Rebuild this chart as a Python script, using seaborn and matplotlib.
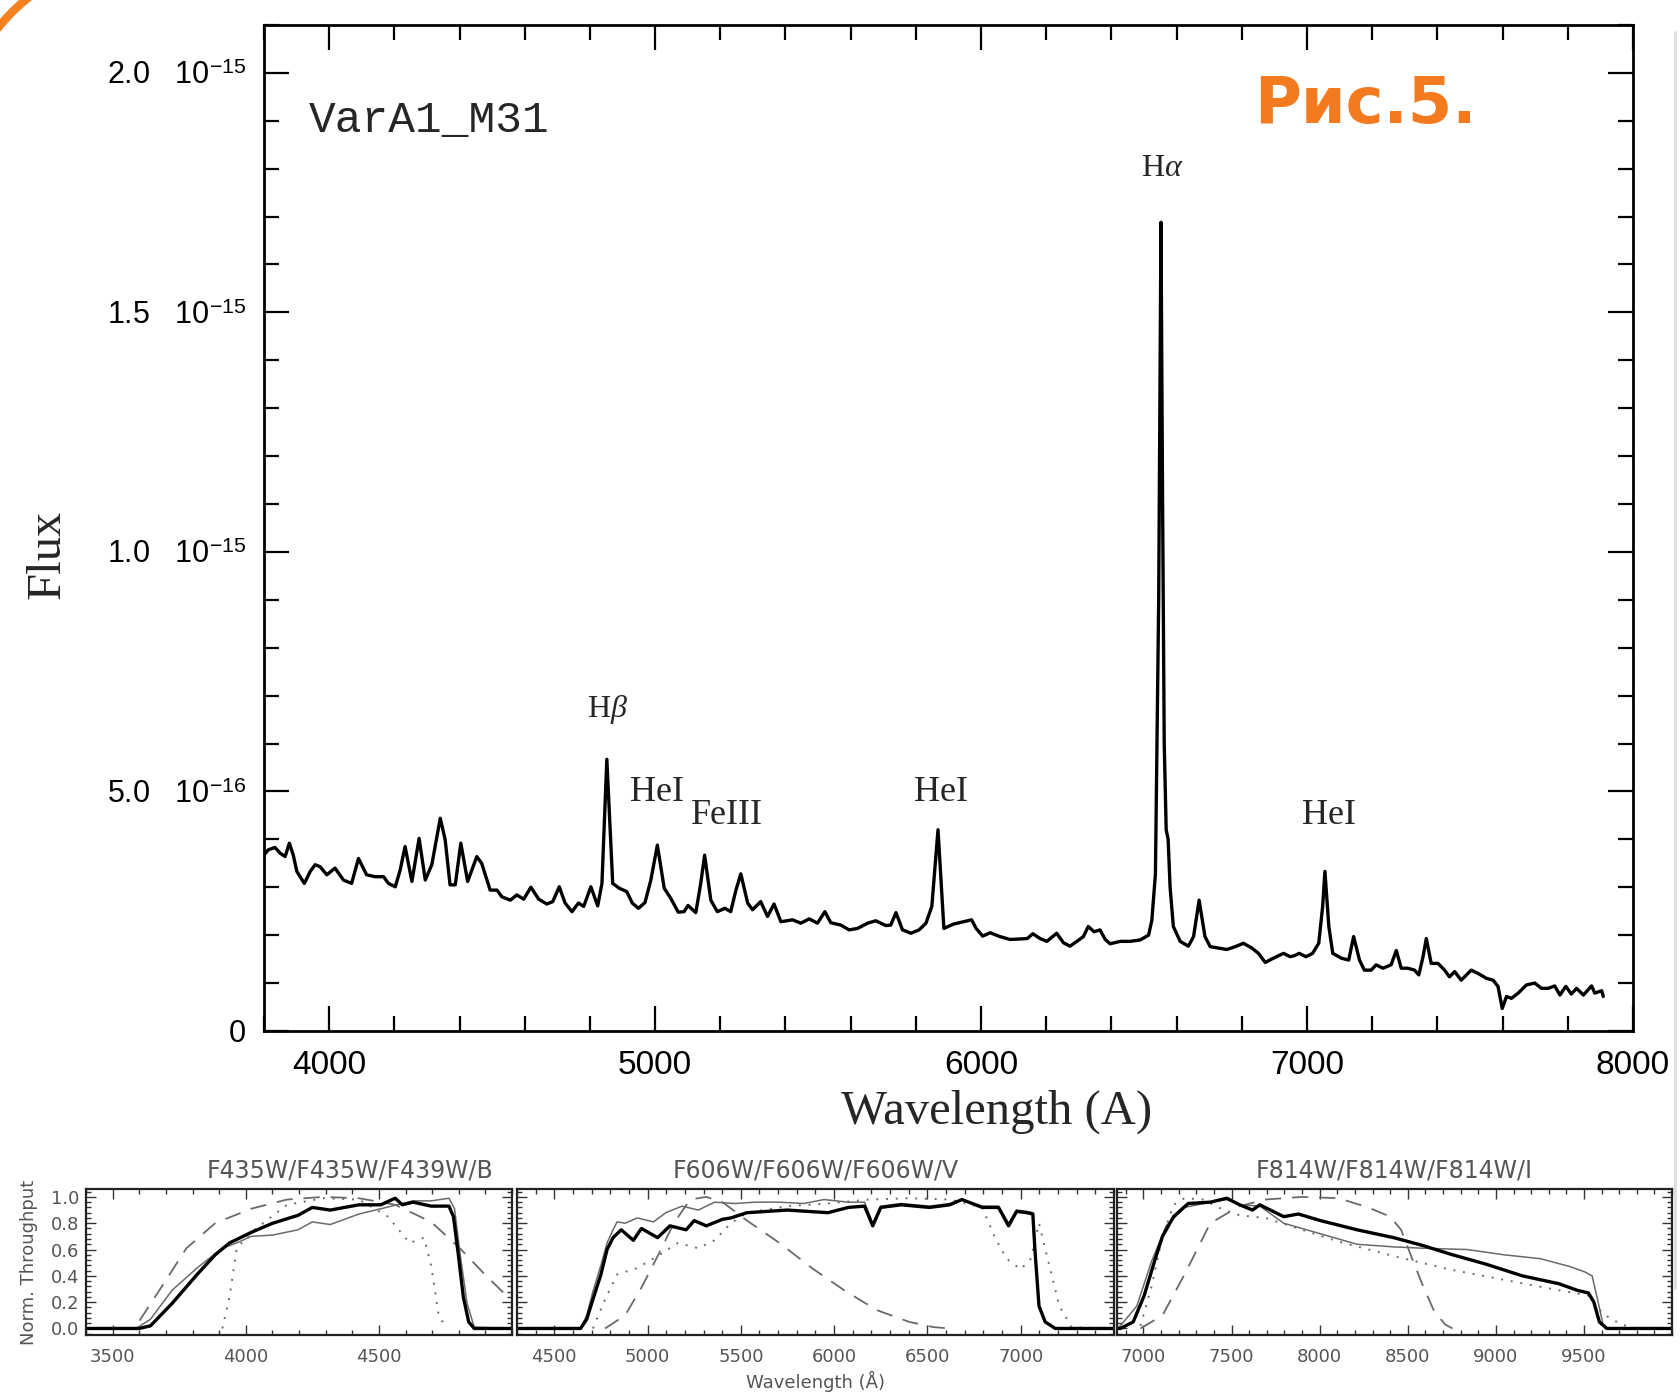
import numpy as np
import pandas as pd
import matplotlib
matplotlib.use("Agg")
import matplotlib.pyplot as plt
import seaborn as sns
from matplotlib.ticker import MultipleLocator, FixedLocator
from matplotlib.patches import Arc
from matplotlib.lines import Line2D

# ---------------- main spectrum (flux in units of 1e-15) ----------------
SPEC_WL = [3800, 3813, 3834, 3850, 3865, 3878, 3890, 3901, 3924, 3942, 3957, 3972, 3993,
           4018, 4044, 4069, 4090, 4115, 4141, 4167, 4182, 4203, 4218, 4233, 4254, 4276,
           4295, 4315, 4341, 4356, 4371, 4387, 4404, 4425, 4453, 4468, 4494, 4515, 4530,
           4556, 4576, 4597, 4619, 4643, 4668, 4686, 4706, 4724, 4745, 4765, 4781, 4803,
           4824, 4837, 4852, 4870, 4890, 4913, 4930, 4949, 4969, 4987, 5007, 5028, 5048,
           5071, 5089, 5101, 5125, 5140, 5152, 5171, 5191, 5214, 5232, 5248, 5263, 5284,
           5299, 5324, 5345, 5365, 5386, 5422, 5447, 5473, 5498, 5521, 5539, 5570, 5595,
           5621, 5652, 5677, 5708, 5723, 5739, 5759, 5785, 5810, 5831, 5849, 5868, 5886,
           5915, 5946, 5971, 5985, 6005, 6028, 6058, 6089, 6120, 6142, 6159, 6181, 6202,
           6232, 6253, 6273, 6294, 6314, 6329, 6347, 6365, 6381, 6396, 6427, 6457, 6488,
           6514, 6524, 6535, 6545, 6552, 6557, 6562, 6568, 6574, 6580, 6590, 6611, 6636,
           6652, 6669, 6687, 6703, 6728, 6754, 6780, 6805, 6831, 6851, 6872, 6897, 6928,
           6948, 6961, 6976, 6997, 7017, 7036, 7048, 7055, 7067, 7079, 7105, 7128, 7143,
           7161, 7176, 7197, 7212, 7233, 7258, 7274, 7289, 7309, 7330, 7343, 7356, 7366,
           7381, 7402, 7422, 7437, 7453, 7473, 7504, 7525, 7550, 7571, 7586, 7599, 7612,
           7627, 7648, 7673, 7699, 7719, 7740, 7760, 7776, 7794, 7811, 7827, 7848, 7873,
           7883, 7904, 7909]
SPEC_FLUX = [0.367, 0.378, 0.383, 0.371, 0.364, 0.392, 0.367, 0.333, 0.308, 0.333, 0.347, 0.343, 0.326,
             0.340, 0.315, 0.308, 0.360, 0.326, 0.322, 0.322, 0.308, 0.301, 0.336, 0.385, 0.312, 0.402,
             0.315, 0.347, 0.444, 0.399, 0.305, 0.305, 0.392, 0.312, 0.364, 0.350, 0.294, 0.294, 0.280,
             0.273, 0.284, 0.275, 0.300, 0.275, 0.265, 0.270, 0.301, 0.267, 0.249, 0.267, 0.260, 0.301,
             0.261, 0.308, 0.567, 0.308, 0.298, 0.291, 0.267, 0.256, 0.268, 0.315, 0.388, 0.298, 0.277,
             0.248, 0.249, 0.262, 0.247, 0.308, 0.367, 0.273, 0.249, 0.256, 0.249, 0.294, 0.328, 0.267,
             0.253, 0.270, 0.239, 0.265, 0.228, 0.232, 0.225, 0.234, 0.225, 0.249, 0.226, 0.221, 0.211,
             0.214, 0.225, 0.230, 0.220, 0.221, 0.247, 0.211, 0.204, 0.211, 0.225, 0.260, 0.420, 0.214,
             0.223, 0.228, 0.232, 0.214, 0.198, 0.205, 0.197, 0.191, 0.192, 0.193, 0.203, 0.193, 0.187,
             0.204, 0.184, 0.177, 0.187, 0.197, 0.218, 0.207, 0.211, 0.191, 0.182, 0.187, 0.187, 0.190,
             0.200, 0.231, 0.328, 0.900, 1.688, 1.100, 0.600, 0.420, 0.400, 0.300, 0.218, 0.187, 0.177,
             0.197, 0.273, 0.197, 0.176, 0.173, 0.170, 0.176, 0.183, 0.173, 0.162, 0.143, 0.152, 0.162,
             0.155, 0.157, 0.162, 0.155, 0.162, 0.183, 0.260, 0.333, 0.218, 0.162, 0.152, 0.148, 0.197,
             0.148, 0.127, 0.127, 0.138, 0.131, 0.138, 0.168, 0.131, 0.131, 0.127, 0.117, 0.155, 0.193,
             0.141, 0.141, 0.127, 0.113, 0.124, 0.106, 0.127, 0.120, 0.110, 0.106, 0.093, 0.047, 0.072,
             0.068, 0.079, 0.096, 0.100, 0.089, 0.089, 0.094, 0.075, 0.093, 0.077, 0.089, 0.075, 0.094,
             0.079, 0.084, 0.072]

FLUX_TICKS = [0.0, 0.5, 1.0, 1.5, 2.0]
FLUX_TICK_LABELS = ["0", r"5.0   $10^{-16}$", r"1.0   $10^{-15}$", r"1.5   $10^{-15}$", r"2.0   $10^{-15}$"]

LINE_NAMES = [r"H$\beta$", "HeI", "FeIII", "HeI", r"H$\alpha$", "HeI"]
LINE_WL = [4854, 5006, 5222, 5877, 6557, 7066]
LINE_Y = [0.670, 0.497, 0.449, 0.497, 1.800, 0.449]

# ---------------- filter throughput panels ----------------
B_THICK_WL = [3400, 3600, 3642, 3723, 3817, 3885, 3939, 4020, 4101, 4196, 4250, 4317, 4425, 4507,
              4561, 4588, 4628, 4696, 4763, 4780, 4797, 4817, 4837, 4858, 5000]
B_THICK = [0, 0, 0.02, 0.19, 0.41, 0.56, 0.65, 0.73, 0.80, 0.86, 0.92, 0.90, 0.94, 0.94,
           0.99, 0.94, 0.96, 0.93, 0.93, 0.85, 0.58, 0.24, 0.05, 0.0, 0.0]
B_THIN_WL = [3400, 3588, 3642, 3723, 3817, 3912, 3966, 4020, 4101, 4196, 4250, 4317, 4425, 4507,
             4628, 4696, 4763, 4784, 4804, 4831, 4858, 5000]
B_THIN = [0, 0, 0.07, 0.29, 0.46, 0.61, 0.65, 0.70, 0.71, 0.75, 0.81, 0.79, 0.87, 0.91,
          0.97, 0.97, 0.99, 0.91, 0.58, 0.19, 0.01, 0]
B_DASH_WL = [3601, 3682, 3777, 3885, 4020, 4155, 4290, 4425, 4561, 4696, 4804, 4898, 4979]
B_DASH = [0.06, 0.31, 0.61, 0.80, 0.91, 0.98, 1.0, 0.99, 0.94, 0.81, 0.61, 0.41, 0.25]
B_DOT_WL = [3912, 3939, 3966, 4020, 4155, 4290, 4425, 4534, 4615, 4669, 4696, 4723, 4750]
B_DOT = [0, 0.24, 0.61, 0.73, 0.94, 0.99, 0.98, 0.85, 0.65, 0.69, 0.48, 0.12, 0]

V_THICK_WL = [4300, 4641, 4674, 4707, 4750, 4783, 4815, 4859, 4924, 4967, 5054, 5120, 5207, 5250,
              5315, 5402, 5446, 5533, 5641, 5750, 5859, 5967, 6076, 6163, 6207, 6250, 6359, 6511,
              6620, 6685, 6794, 6881, 6935, 6978, 7033, 7065, 7076, 7098, 7131, 7185, 7500]
V_THICK = [0, 0, 0.07, 0.22, 0.41, 0.60, 0.69, 0.75, 0.67, 0.76, 0.69, 0.78, 0.75, 0.82,
           0.78, 0.83, 0.84, 0.88, 0.89, 0.90, 0.89, 0.88, 0.92, 0.93, 0.78, 0.92, 0.94, 0.92,
           0.94, 0.98, 0.92, 0.92, 0.78, 0.89, 0.88, 0.87, 0.60, 0.17, 0.05, 0, 0]
V_THIN_WL = [4300, 4641, 4674, 4707, 4750, 4783, 4815, 4837, 4880, 4945, 5032, 5098, 5185, 5272,
             5359, 5468, 5576, 5707, 5837, 5946, 6076, 6163, 6207, 6250, 6359, 6511, 6620, 6685,
             6794, 6881, 6935, 6978, 7033, 7065, 7076, 7098, 7131, 7185, 7500]
V_THIN = [0, 0, 0.10, 0.28, 0.48, 0.65, 0.75, 0.81, 0.80, 0.84, 0.81, 0.88, 0.93, 0.90,
          0.96, 0.95, 0.96, 0.96, 0.95, 0.98, 0.96, 0.96, 0.80, 0.93, 0.95, 0.93, 0.95, 0.98,
          0.93, 0.93, 0.80, 0.90, 0.89, 0.88, 0.60, 0.17, 0.05, 0, 0]
V_DOT_WL = [4707, 4772, 4837, 4945, 5054, 5163, 5272, 5359, 5446, 5533, 5750, 5967, 6185, 6402,
            6620, 6794, 6859, 6924, 7000, 7054, 7098, 7141, 7207, 7272, 7500]
V_DOT = [0, 0.22, 0.41, 0.46, 0.55, 0.65, 0.61, 0.67, 0.80, 0.88, 0.93, 0.95, 0.98, 0.99,
         0.98, 0.92, 0.70, 0.53, 0.45, 0.53, 0.80, 0.55, 0.17, 0.01, 0]
V_DASH_WL = [4772, 4880, 4967, 5054, 5141, 5228, 5315, 5402, 5533, 5707, 5880, 6054, 6228, 6402,
             6533, 6620]
V_DASH = [0, 0.10, 0.31, 0.55, 0.80, 0.98, 1.0, 0.96, 0.82, 0.65, 0.46, 0.29, 0.14, 0.05, 0.01, 0]

I_THICK_WL = [6850, 6869, 6942, 7004, 7067, 7108, 7171, 7254, 7379, 7473, 7546, 7619, 7660, 7796,
              7879, 8004, 8212, 8421, 8587, 8754, 8941, 9150, 9358, 9462, 9525, 9556, 9587, 9629, 10000]
I_THICK = [0, 0, 0.05, 0.25, 0.53, 0.70, 0.85, 0.95, 0.96, 0.99, 0.94, 0.90, 0.94, 0.85,
           0.87, 0.82, 0.75, 0.69, 0.63, 0.56, 0.49, 0.40, 0.34, 0.29, 0.27, 0.20, 0.05, 0, 0]
I_THIN_WL = [6850, 6869, 6962, 7046, 7129, 7233, 7379, 7473, 7546, 7660, 7796, 8004, 8212, 8421,
             8587, 8837, 9046, 9254, 9421, 9504, 9546, 9577, 9608, 9640, 10000]
I_THIN = [0, 0.02, 0.17, 0.51, 0.78, 0.92, 0.96, 0.98, 0.94, 0.93, 0.80, 0.72, 0.64, 0.62,
          0.61, 0.60, 0.56, 0.53, 0.47, 0.43, 0.40, 0.22, 0.03, 0, 0]
I_DOT_WL = [6983, 7046, 7108, 7171, 7233, 7338, 7442, 7546, 7692, 7900, 8108, 8421, 8733, 9046,
            9358, 9525, 9608, 9712, 9796, 10000]
I_DOT = [0.02, 0.32, 0.70, 0.94, 0.99, 0.98, 0.91, 0.86, 0.84, 0.75, 0.66, 0.55, 0.45, 0.37,
         0.29, 0.25, 0.11, 0.03, 0, 0]
I_DASH_WL = [6983, 7108, 7233, 7379, 7546, 7692, 7900, 8108, 8275, 8400, 8462, 8525, 8587, 8650,
             8712, 8754]
I_DASH = [0, 0.10, 0.41, 0.80, 0.93, 0.98, 1.0, 0.99, 0.92, 0.85, 0.75, 0.53, 0.32, 0.13, 0.03, 0]

PANEL_TITLES = ["F435W/F435W/F439W/B", "F606W/F606W/F606W/V", "F814W/F814W/F814W/I"]
PANEL_XLIMS = [(3400, 5000), (4300, 7500), (6850, 10000)]
PANEL_XTICKS = [[3500, 4000, 4500], [4500, 5000, 5500, 6000, 6500, 7000],
                [7000, 7500, 8000, 8500, 9000, 9500]]
PANEL_YTICKS = [0.0, 0.2, 0.4, 0.6, 0.8, 1.0]

# ---------------- style ----------------
sns.set_style("ticks")
plt.rcParams['font.family'] = ['Liberation Sans', 'DejaVu Sans']
plt.rcParams['mathtext.fontset'] = 'custom'
plt.rcParams['mathtext.rm'] = 'Liberation Sans'
plt.rcParams['mathtext.it'] = 'Liberation Serif:italic'
plt.rcParams['mathtext.bf'] = 'Liberation Sans:bold'

fig = plt.figure(figsize=(16.8, 14), dpi=100)
fig.patch.set_facecolor('white')

# ---------------- main axes ----------------
ax = fig.add_axes([0.1571, 0.2636, 0.8149, 0.7186])
sns.lineplot(x=SPEC_WL, y=SPEC_FLUX, ax=ax, color='black', linewidth=2.4,
             sort=False, estimator=None)
ax.set_xlim(3800, 8000)
ax.set_ylim(0, 2.1)
ax.xaxis.set_major_locator(MultipleLocator(1000))
ax.xaxis.set_minor_locator(MultipleLocator(200))
ax.yaxis.set_major_locator(FixedLocator(FLUX_TICKS))
ax.set_yticklabels(FLUX_TICK_LABELS)
ax.yaxis.set_minor_locator(MultipleLocator(0.1))
ax.tick_params(which='both', direction='in', top=True, right=True, width=1.6, colors='black')
ax.tick_params(which='major', length=18)
ax.tick_params(which='minor', length=11)
ax.tick_params(axis='x', which='major', pad=14, labelsize=24)
ax.tick_params(axis='y', which='major', pad=13, labelsize=22)
for s in ax.spines.values():
    s.set_linewidth(2)
    s.set_color('black')

ax.set_xlabel("Wavelength (A)", fontfamily='Liberation Serif', fontsize=35)
ax.xaxis.set_label_coords(0.535, -0.08)
ax.xaxis.label.set_va('center')
ax.set_ylabel("Flux", fontfamily='Liberation Serif', fontsize=35)
ax.yaxis.set_label_coords(-0.158, 0.474)
ax.yaxis.label.set_va('center')

ax.text(3937, 1.90, "VarA1_M31", fontfamily='Liberation Mono', fontsize=32,
        ha='left', va='center')
for name, wl, yy in zip(LINE_NAMES, LINE_WL, LINE_Y):
    fs = 23 if '$' in name else 26
    ax.text(wl, yy, name, fontfamily='Liberation Serif', fontsize=fs, ha='center', va='center')

# ---------------- filter panels ----------------
panel_rects = [[0.0512, 0.0464, 0.2536, 0.1043],
               [0.3077, 0.0464, 0.3554, 0.1043],
               [0.6649, 0.0464, 0.3304, 0.1043]]
panel_data = [
    (B_THICK_WL, B_THICK, B_THIN_WL, B_THIN, B_DASH_WL, B_DASH, B_DOT_WL, B_DOT),
    (V_THICK_WL, V_THICK, V_THIN_WL, V_THIN, V_DASH_WL, V_DASH, V_DOT_WL, V_DOT),
    (I_THICK_WL, I_THICK, I_THIN_WL, I_THIN, I_DASH_WL, I_DASH, I_DOT_WL, I_DOT),
]
gray = '#6a6a6a'
txtgray = '#555555'
title_x = [0.62, 0.5, 0.5]
for i, rect in enumerate(panel_rects):
    pax = fig.add_axes(rect)
    twl, tv, nwl, nv, dwl, dv, owl, ov = panel_data[i]
    sns.lineplot(x=dwl, y=dv, ax=pax, color=gray, linewidth=1.3, sort=False, estimator=None)
    pax.lines[-1].set_dashes([9, 6])
    sns.lineplot(x=owl, y=ov, ax=pax, color=gray, linewidth=1.4, sort=False, estimator=None)
    pax.lines[-1].set_dashes([1, 4])
    sns.lineplot(x=nwl, y=nv, ax=pax, color=gray, linewidth=1.1, sort=False, estimator=None)
    sns.lineplot(x=twl, y=tv, ax=pax, color='black', linewidth=2.4, sort=False, estimator=None)
    pax.set_xlim(*PANEL_XLIMS[i])
    pax.set_ylim(-0.05, 1.06)
    pax.xaxis.set_major_locator(FixedLocator(PANEL_XTICKS[i]))
    pax.xaxis.set_minor_locator(MultipleLocator(100))
    pax.yaxis.set_major_locator(FixedLocator(PANEL_YTICKS))
    pax.yaxis.set_minor_locator(MultipleLocator(0.04))
    pax.tick_params(which='both', direction='in', top=True, right=True, width=1.0,
                    color='#333333', labelcolor=txtgray)
    pax.tick_params(which='major', length=7, labelsize=13)
    pax.tick_params(which='minor', length=3.5)
    pax.tick_params(axis='x', which='major', pad=9)
    pax.tick_params(axis='y', which='major', pad=5)
    for lab in pax.get_xticklabels() + pax.get_yticklabels():
        lab.set_fontfamily('DejaVu Sans')
    pax.set_xlabel("")
    pax.set_ylabel("")
    if i == 0:
        pax.set_yticklabels([f"{v:.1f}" for v in PANEL_YTICKS], fontfamily='DejaVu Sans')
        pax.set_ylabel("Norm. Throughput", fontsize=13, color=txtgray, fontfamily='DejaVu Sans')
        pax.yaxis.set_label_coords(-0.134, 0.5)
        pax.yaxis.label.set_va('center')
    else:
        pax.set_yticklabels([])
    if i == 1:
        pax.set_xlabel("Wavelength (Å)", fontsize=13, color=txtgray, fontfamily='DejaVu Sans')
        pax.xaxis.set_label_coords(0.5, -0.315)
        pax.xaxis.label.set_va('center')
    for s in pax.spines.values():
        s.set_linewidth(1.6)
        s.set_color('#222222')
    pax.text(title_x[i], 1.13, PANEL_TITLES[i], transform=pax.transAxes, ha='center',
             va='center', fontsize=17, color=txtgray, fontfamily='DejaVu Sans')

# ---------------- decorations ----------------
fig.text(0.813, 0.925, "Рис.5.", fontfamily='DejaVu Sans', fontweight='bold',
         fontsize=46, color='#F47A20', ha='center', va='center')
fig.patches.append(Arc((150, 1250), 390, 390, theta1=90, theta2=180, color='#F5821F',
                       linewidth=6, transform=None, figure=fig))
fig.lines.append(Line2D([0.997, 0.997], [0.977, 0.08], transform=fig.transFigure,
                        color='#dddddd', linewidth=2))

fig.savefig("out.png", dpi=100)
